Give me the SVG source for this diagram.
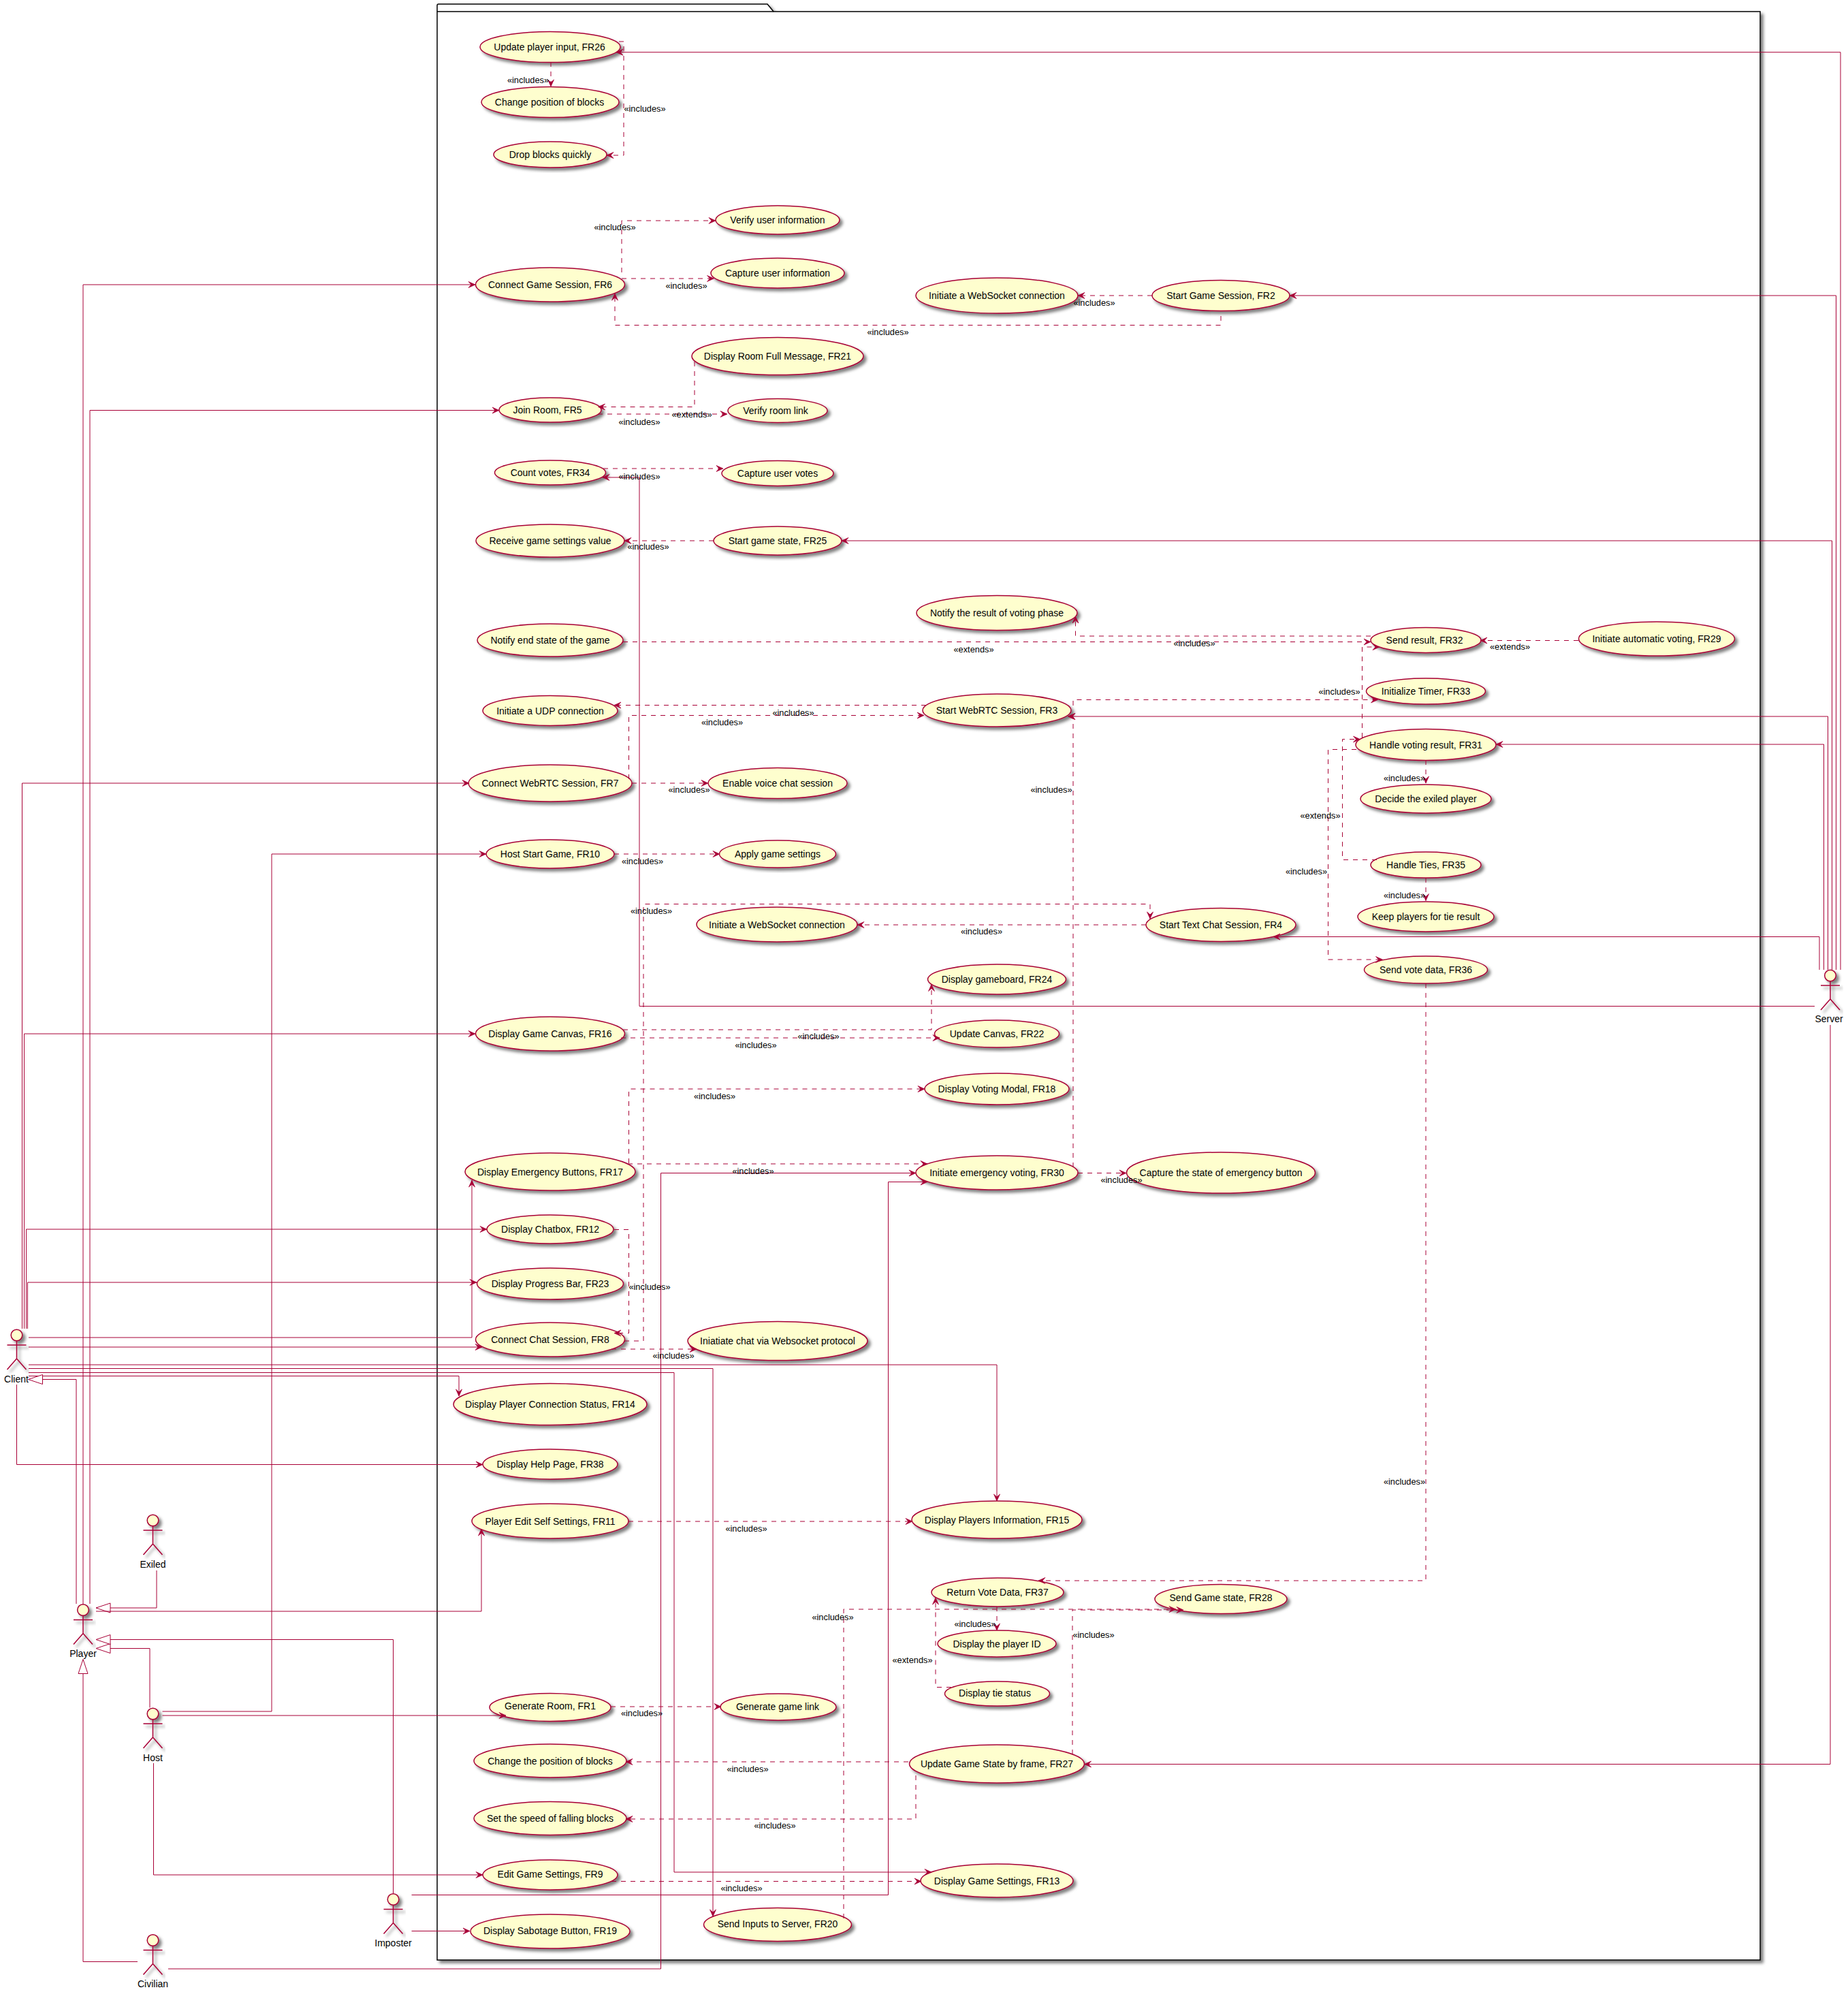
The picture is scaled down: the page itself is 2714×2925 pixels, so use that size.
<svg xmlns="http://www.w3.org/2000/svg" xmlns:xlink="http://www.w3.org/1999/xlink" width="2714" height="2925" viewBox="0 0 2714 2925">
<style>
text{font-family:"Liberation Sans",Arial,sans-serif;fill:#000;text-anchor:middle}
.t{font-size:14px}
.l{font-size:12.8px}
.n ellipse{fill:#FEFECE;stroke:#A80036;stroke-width:1.5;filter:url(#sh)}
.c path{fill:none;stroke:#A80036;stroke-width:1}
.c path.s{marker-end:url(#a)}
.c path.d{stroke-dasharray:7 7;marker-end:url(#a)}
.c path.g{marker-end:url(#tri)}
.stick *{fill:none;stroke:#A80036;stroke-width:1.5}
.stick circle{fill:#FEFECE}
</style>
<defs>
<filter id="sh" x="-10%" y="-10%" width="125%" height="130%"><feDropShadow dx="4" dy="4" stdDeviation="2.2" flood-color="#000" flood-opacity=".5"/></filter>
<filter id="shp" x="-1%" y="-1%" width="102%" height="102%"><feDropShadow dx="4" dy="4" stdDeviation="2.2" flood-color="#000" flood-opacity=".5"/></filter>
<marker id="a" markerUnits="userSpaceOnUse" markerWidth="12" markerHeight="10" refX="10" refY="4.5" orient="auto" overflow="visible"><path d="M10,4.5 L0,0 L4,4.5 L0,9 Z" style="fill:#A80036;stroke:#A80036;stroke-width:.7;stroke-dasharray:none"/></marker>
<marker id="tri" markerUnits="userSpaceOnUse" markerWidth="22" markerHeight="16" refX="0" refY="7" orient="auto" overflow="visible"><path d="M21,7 L0,0 L0,14 Z" style="fill:#fff;stroke:#A80036;stroke-width:1;stroke-dasharray:none"/></marker>
<g id="stick" class="stick" filter="url(#sh)"><circle cx="0" cy="8.5" r="8.3"/><path d="M0,17 V43 M-14,23 H14 M0,43 L-14,59 M0,43 L14,59"/></g>
</defs>
<rect width="2714" height="2925" fill="#fff"/>
<g id="package">
<path d="M642,17 V8 Q642,6 644,6 H1127 L1136,17 H2585 V2878 H642 Z" fill="#fff" stroke="#000" stroke-width="1.5" filter="url(#shp)"/>
<path d="M642,17 H1136" fill="none" stroke="#000" stroke-width="1.5"/>
</g>
<g id="nodes" class="n">
<g id="fr26"><ellipse cx="808" cy="69" rx="103" ry="22.5"/><text class="t" x="807" y="73.5">Update player input, FR26</text></g>
<g id="change-blocks"><ellipse cx="808" cy="150" rx="101" ry="22.5"/><text class="t" x="807" y="154.5">Change position of blocks</text></g>
<g id="drop-blocks"><ellipse cx="808" cy="227" rx="83" ry="19"/><text class="t" x="808" y="232">Drop blocks quickly</text></g>
<g id="verify-user"><ellipse cx="1142" cy="323" rx="91" ry="21"/><text class="t" x="1142" y="328">Verify user information</text></g>
<g id="capture-user"><ellipse cx="1142" cy="401" rx="98" ry="22"/><text class="t" x="1142" y="406">Capture user information</text></g>
<g id="fr6"><ellipse cx="808" cy="418" rx="109.5" ry="25"/><text class="t" x="808" y="423">Connect Game Session, FR6</text></g>
<g id="ws1"><ellipse cx="1464" cy="434" rx="119" ry="26"/><text class="t" x="1464" y="439">Initiate a WebSocket connection</text></g>
<g id="fr2"><ellipse cx="1793" cy="434" rx="101" ry="22.5"/><text class="t" x="1793" y="439">Start Game Session, FR2</text></g>
<g id="fr21"><ellipse cx="1142" cy="523" rx="126" ry="27.5"/><text class="t" x="1142" y="528">Display Room Full Message, FR21</text></g>
<g id="fr5"><ellipse cx="808" cy="602" rx="75" ry="18"/><text class="t" x="804" y="607">Join Room, FR5</text></g>
<g id="verify-room"><ellipse cx="1142" cy="603" rx="73" ry="17.5"/><text class="t" x="1139" y="608">Verify room link</text></g>
<g id="fr34"><ellipse cx="808" cy="694" rx="81.5" ry="18"/><text class="t" x="808" y="699">Count votes, FR34</text></g>
<g id="capture-votes"><ellipse cx="1142" cy="695" rx="82" ry="18.5"/><text class="t" x="1142" y="700">Capture user votes</text></g>
<g id="receive-settings"><ellipse cx="808" cy="794" rx="109" ry="24"/><text class="t" x="808" y="799">Receive game settings value</text></g>
<g id="fr25"><ellipse cx="1142" cy="794" rx="94" ry="21"/><text class="t" x="1142" y="799">Start game state, FR25</text></g>
<g id="notify-result"><ellipse cx="1464" cy="900" rx="118" ry="25.5"/><text class="t" x="1464" y="905">Notify the result of voting phase</text></g>
<g id="notify-end"><ellipse cx="808" cy="940" rx="107" ry="24"/><text class="t" x="808" y="945">Notify end state of the game</text></g>
<g id="fr32"><ellipse cx="2094" cy="940" rx="81" ry="18.5"/><text class="t" x="2092" y="945">Send result, FR32</text></g>
<g id="fr29"><ellipse cx="2433" cy="938" rx="114.5" ry="25"/><text class="t" x="2433" y="943">Initiate automatic voting, FR29</text></g>
<g id="fr33"><ellipse cx="2094" cy="1015" rx="87.5" ry="19"/><text class="t" x="2094" y="1020">Initialize Timer, FR33</text></g>
<g id="udp"><ellipse cx="808" cy="1043.5" rx="99" ry="22"/><text class="t" x="808" y="1048.5">Initiate a UDP connection</text></g>
<g id="fr3"><ellipse cx="1464" cy="1043" rx="109" ry="24"/><text class="t" x="1464" y="1048">Start WebRTC Session, FR3</text></g>
<g id="fr31"><ellipse cx="2094" cy="1093.5" rx="103" ry="23"/><text class="t" x="2094" y="1098.5">Handle voting result, FR31</text></g>
<g id="fr7"><ellipse cx="808" cy="1150" rx="120" ry="27"/><text class="t" x="808" y="1155">Connect WebRTC Session, FR7</text></g>
<g id="voice"><ellipse cx="1142" cy="1150" rx="102" ry="22.5"/><text class="t" x="1142" y="1155">Enable voice chat session</text></g>
<g id="decide"><ellipse cx="2094" cy="1173" rx="96" ry="21"/><text class="t" x="2094" y="1178">Decide the exiled player</text></g>
<g id="fr10"><ellipse cx="808" cy="1254" rx="94" ry="21"/><text class="t" x="808" y="1259">Host Start Game, FR10</text></g>
<g id="apply"><ellipse cx="1142" cy="1254" rx="85.5" ry="20"/><text class="t" x="1142" y="1259">Apply game settings</text></g>
<g id="fr35"><ellipse cx="2094" cy="1270" rx="81" ry="19"/><text class="t" x="2094" y="1275">Handle Ties, FR35</text></g>
<g id="keep"><ellipse cx="2094" cy="1346" rx="100" ry="22"/><text class="t" x="2094" y="1351">Keep players for tie result</text></g>
<g id="ws2"><ellipse cx="1141" cy="1357.5" rx="118" ry="25.5"/><text class="t" x="1141" y="1362.5">Initiate a WebSocket connection</text></g>
<g id="fr4"><ellipse cx="1793" cy="1358" rx="110" ry="24.5"/><text class="t" x="1793" y="1363">Start Text Chat Session, FR4</text></g>
<g id="fr36"><ellipse cx="2094" cy="1424" rx="90.5" ry="20"/><text class="t" x="2094" y="1429">Send vote data, FR36</text></g>
<g id="fr24"><ellipse cx="1464" cy="1438" rx="101.5" ry="22"/><text class="t" x="1464" y="1443">Display gameboard, FR24</text></g>
<g id="fr16"><ellipse cx="808" cy="1518" rx="109.5" ry="25"/><text class="t" x="808" y="1523">Display Game Canvas, FR16</text></g>
<g id="fr22"><ellipse cx="1464" cy="1518" rx="91.5" ry="20"/><text class="t" x="1464" y="1523">Update Canvas, FR22</text></g>
<g id="fr18"><ellipse cx="1464" cy="1599" rx="106" ry="23"/><text class="t" x="1464" y="1604">Display Voting Modal, FR18</text></g>
<g id="fr17"><ellipse cx="808" cy="1720.5" rx="125" ry="27.5"/><text class="t" x="808" y="1725.5">Display Emergency Buttons, FR17</text></g>
<g id="fr30"><ellipse cx="1464" cy="1722" rx="119" ry="25"/><text class="t" x="1464" y="1727">Initiate emergency voting, FR30</text></g>
<g id="capture-emergency"><ellipse cx="1793" cy="1722" rx="138.5" ry="30"/><text class="t" x="1793" y="1727">Capture the state of emergency button</text></g>
<g id="fr12"><ellipse cx="808" cy="1805" rx="93" ry="21"/><text class="t" x="808" y="1810">Display Chatbox, FR12</text></g>
<g id="fr23"><ellipse cx="808" cy="1885" rx="107.5" ry="23"/><text class="t" x="808" y="1890">Display Progress Bar, FR23</text></g>
<g id="fr8"><ellipse cx="808" cy="1967" rx="109.5" ry="25"/><text class="t" x="808" y="1972">Connect Chat Session, FR8</text></g>
<g id="chat-ws"><ellipse cx="1142" cy="1969" rx="132" ry="28.5"/><text class="t" x="1142" y="1974">Iniatiate chat via Websocket protocol</text></g>
<g id="fr14"><ellipse cx="808" cy="2062" rx="142" ry="30.5"/><text class="t" x="808" y="2067">Display Player Connection Status, FR14</text></g>
<g id="fr38"><ellipse cx="808" cy="2150" rx="99" ry="22"/><text class="t" x="808" y="2155">Display Help Page, FR38</text></g>
<g id="fr11"><ellipse cx="808" cy="2233.5" rx="115" ry="25.5"/><text class="t" x="808" y="2238.5">Player Edit Self Settings, FR11</text></g>
<g id="fr15"><ellipse cx="1464" cy="2231.5" rx="125" ry="27.5"/><text class="t" x="1464" y="2236.5">Display Players Information, FR15</text></g>
<g id="fr37"><ellipse cx="1465" cy="2338" rx="97" ry="21"/><text class="t" x="1465" y="2343">Return Vote Data, FR37</text></g>
<g id="fr28"><ellipse cx="1793" cy="2348" rx="97" ry="21.5"/><text class="t" x="1793" y="2351">Send Game state, FR28</text></g>
<g id="player-id"><ellipse cx="1464" cy="2413.5" rx="87" ry="19.5"/><text class="t" x="1464" y="2418.5">Display the player ID</text></g>
<g id="tie-status"><ellipse cx="1464.5" cy="2487" rx="77" ry="18"/><text class="t" x="1461" y="2491">Display tie status</text></g>
<g id="fr1"><ellipse cx="808" cy="2507" rx="89" ry="20.5"/><text class="t" x="808" y="2510">Generate Room, FR1</text></g>
<g id="game-link"><ellipse cx="1143" cy="2506.5" rx="85" ry="19.5"/><text class="t" x="1142" y="2510.5">Generate game link</text></g>
<g id="change-pos"><ellipse cx="808" cy="2585.5" rx="112" ry="24.5"/><text class="t" x="808" y="2590.5">Change the position of blocks</text></g>
<g id="fr27"><ellipse cx="1464" cy="2590" rx="128.5" ry="28"/><text class="t" x="1464" y="2595">Update Game State by frame, FR27</text></g>
<g id="set-speed"><ellipse cx="808" cy="2670" rx="112" ry="24.5"/><text class="t" x="808" y="2675">Set the speed of falling blocks</text></g>
<g id="fr9"><ellipse cx="808" cy="2753" rx="99" ry="22"/><text class="t" x="808" y="2757">Edit Game Settings, FR9</text></g>
<g id="fr13"><ellipse cx="1464" cy="2761.5" rx="112" ry="24.5"/><text class="t" x="1464" y="2766.5">Display Game Settings, FR13</text></g>
<g id="fr20"><ellipse cx="1142" cy="2826" rx="108.5" ry="24.5"/><text class="t" x="1142" y="2830">Send Inputs to Server, FR20</text></g>
<g id="fr19"><ellipse cx="808" cy="2836" rx="117" ry="25"/><text class="t" x="808" y="2840">Display Sabotage Button, FR19</text></g>
</g>
<g id="actors">
<g id="client"><use href="#stick" x="24.5" y="1952"/><text class="t" x="24" y="2029.5">Client</text></g>
<g id="player"><use href="#stick" x="122" y="2355.5"/><text class="t" x="122" y="2433">Player</text></g>
<g id="exiled"><use href="#stick" x="224.5" y="2224"/><text class="t" x="224.5" y="2302">Exiled</text></g>
<g id="host"><use href="#stick" x="224.5" y="2508"/><text class="t" x="224.5" y="2586">Host</text></g>
<g id="imposter"><use href="#stick" x="577.5" y="2780.5"/><text class="t" x="577.5" y="2858">Imposter</text></g>
<g id="civilian"><use href="#stick" x="224.5" y="2840.5"/><text class="t" x="224.5" y="2918">Civilian</text></g>
<g id="server"><use href="#stick" x="2688" y="1424"/><text class="t" x="2686" y="1501">Server</text></g>
</g>
<g id="connectors" class="c">
<path class="s" d="M122,2355 V418 H698"/>
<path class="s" d="M132,2355 V602.5 H733"/>
<path class="s" d="M32.5,1951 V1150 H689"/>
<path class="s" d="M35.5,1951 V1518 H698"/>
<path class="s" d="M38.5,1951 V1805 H715"/>
<path class="s" d="M40.5,1951 V1883 H700"/>
<path class="s" d="M42,1964 H693 V1733"/>
<path class="s" d="M42,1978 H708"/>
<path class="s" d="M42,2004 H1464 V2204"/>
<path class="s" d="M42,2009.5 H1047 V2814"/>
<path class="s" d="M42,2015.5 H990 V2749 H1368"/>
<path class="s" d="M42,2020.5 H674 V2050"/>
<path class="s" d="M24.5,2033 V2150.5 H709"/>
<path class="g" d="M112,2355 V2025.5 H62.5"/>
<path class="g" d="M230,2306 V2361 H162"/>
<path class="s" d="M141,2366 H707 V2245"/>
<path class="g" d="M220,2507.5 V2420.5 H162"/>
<path class="g" d="M577.5,2780 V2407.5 H162"/>
<path class="g" d="M202,2880.5 H122 V2457.5"/>
<path class="s" d="M238.5,2513 H399 V1254 H714"/>
<path class="s" d="M238.5,2519 H743"/>
<path class="s" d="M225.5,2589 V2753 H709"/>
<path class="s" d="M604.5,2782.5 H1304.5 V1735.5 H1362"/>
<path class="s" d="M604.5,2835.5 H690"/>
<path class="s" d="M247,2891 H970.5 V1722.5 H1345"/>
<path class="s" d="M2703,1424 V76.7 H905"/>
<path class="s" d="M2696.5,1424 V434 H1894"/>
<path class="s" d="M2690.5,1424 V794 H1236"/>
<path class="s" d="M2684.5,1424 V1052 H1568.5"/>
<path class="s" d="M2678.5,1424 V1093 H2197"/>
<path class="s" d="M2672,1424 V1375.5 H1870"/>
<path class="s" d="M2665,1477.5 H939 V701 H885"/>
<path class="s" d="M2688,1505 V2590.5 H1592.5"/>
<path class="d" d="M809,91 V127"/>
<path class="d" d="M909,61 H916 V228 H891"/>
<path class="d" d="M913,400 V324 H1051"/>
<path class="d" d="M913,409 H1048.5"/>
<path class="d" d="M1793,464 V477.5 H903 V431"/>
<path class="d" d="M1692,434 H1583"/>
<path class="d" d="M1020,531 V597.5 H878.5"/>
<path class="d" d="M878,608 H1068"/>
<path class="d" d="M886,688 H1062"/>
<path class="d" d="M1048,794 H917"/>
<path class="d" d="M915,942.5 H2013"/>
<path class="d" d="M2013,934 H1579.5 V905"/>
<path class="d" d="M2318,940.5 H2174"/>
<path class="d" d="M2000.5,1083 V950 H2026"/>
<path class="d" d="M1360,1035.5 H902"/>
<path class="d" d="M923.5,1144 V1050.5 H1357"/>
<path class="d" d="M928,1150 H1040"/>
<path class="d" d="M902,1254 H1057"/>
<path class="d" d="M917,1969 H945 V1327.5 H1689 V1349"/>
<path class="d" d="M1683,1358 H1259"/>
<path class="d" d="M915,1512 H1368 V1445.5"/>
<path class="d" d="M912,1524 H1380"/>
<path class="d" d="M923.5,1708 V1599 H1358"/>
<path class="d" d="M922,1709 H1362"/>
<path class="d" d="M902,1805.5 H923.5 V1957.5 H902"/>
<path class="d" d="M898,1981 H1023"/>
<path class="d" d="M1576,1714 V1052 H1569"/>
<path class="d" d="M1576,1036 V1027.5 H2023.5"/>
<path class="d" d="M1583,1722.5 H1654"/>
<path class="d" d="M2094,1116 V1150"/>
<path class="d" d="M2022,1262.5 H1971.5 V1085.5 H1997.5"/>
<path class="d" d="M1992,1100.5 H1950.5 V1409 H2030.5"/>
<path class="d" d="M2094,1289 V1322.5"/>
<path class="d" d="M2094,1444 V2321 H1525"/>
<path class="d" d="M1464,2359 V2394"/>
<path class="d" d="M1397,2477.5 H1374 V2346"/>
<path class="d" d="M1239,2817 V2363 H1727"/>
<path class="d" d="M1575,2576 V2364 H1738"/>
<path class="d" d="M1334,2587 H919"/>
<path class="d" d="M1345,2607 V2671 H919"/>
<path class="d" d="M897,2506 H1059"/>
<path class="d" d="M923,2234 H1340"/>
<path class="d" d="M898,2762.5 H1353"/>
</g>
<g id="labels">
<text class="l" x="775.5" y="122">«includes»</text>
<text class="l" x="947" y="163.5">«includes»</text>
<text class="l" x="903" y="337.5">«includes»</text>
<text class="l" x="1008" y="423.5">«includes»</text>
<text class="l" x="1304" y="492">«includes»</text>
<text class="l" x="1607" y="448.5">«includes»</text>
<text class="l" x="1016" y="612.5">«extends»</text>
<text class="l" x="939" y="623.5">«includes»</text>
<text class="l" x="939" y="703.5">«includes»</text>
<text class="l" x="952" y="807">«includes»</text>
<text class="l" x="1430" y="957.5">«extends»</text>
<text class="l" x="1754" y="948.5">«includes»</text>
<text class="l" x="2217.5" y="953.5">«extends»</text>
<text class="l" x="1165" y="1050.5">«includes»</text>
<text class="l" x="1060.5" y="1065">«includes»</text>
<text class="l" x="1012" y="1163.5">«includes»</text>
<text class="l" x="943.5" y="1268.5">«includes»</text>
<text class="l" x="956.5" y="1342">«includes»</text>
<text class="l" x="1441.5" y="1372">«includes»</text>
<text class="l" x="1202" y="1525.5">«includes»</text>
<text class="l" x="1110" y="1538.5">«includes»</text>
<text class="l" x="1049.5" y="1613.5">«includes»</text>
<text class="l" x="1106" y="1723.5">«includes»</text>
<text class="l" x="954" y="1893.5">«includes»</text>
<text class="l" x="989" y="1995">«includes»</text>
<text class="l" x="1544" y="1163.5">«includes»</text>
<text class="l" x="1967" y="1020">«includes»</text>
<text class="l" x="1647" y="1736.5">«includes»</text>
<text class="l" x="2062.5" y="1146.5">«includes»</text>
<text class="l" x="1939" y="1202">«extends»</text>
<text class="l" x="1918.5" y="1283.5">«includes»</text>
<text class="l" x="2062.5" y="1318.5">«includes»</text>
<text class="l" x="2062.5" y="2180">«includes»</text>
<text class="l" x="1432" y="2388.5">«includes»</text>
<text class="l" x="1340" y="2441.5">«extends»</text>
<text class="l" x="1223" y="2378.5">«includes»</text>
<text class="l" x="1606" y="2405">«includes»</text>
<text class="l" x="1098" y="2601.5">«includes»</text>
<text class="l" x="1138" y="2685">«includes»</text>
<text class="l" x="942.5" y="2520">«includes»</text>
<text class="l" x="1096" y="2248.5">«includes»</text>
<text class="l" x="1089" y="2777">«includes»</text>
</g>
</svg>
